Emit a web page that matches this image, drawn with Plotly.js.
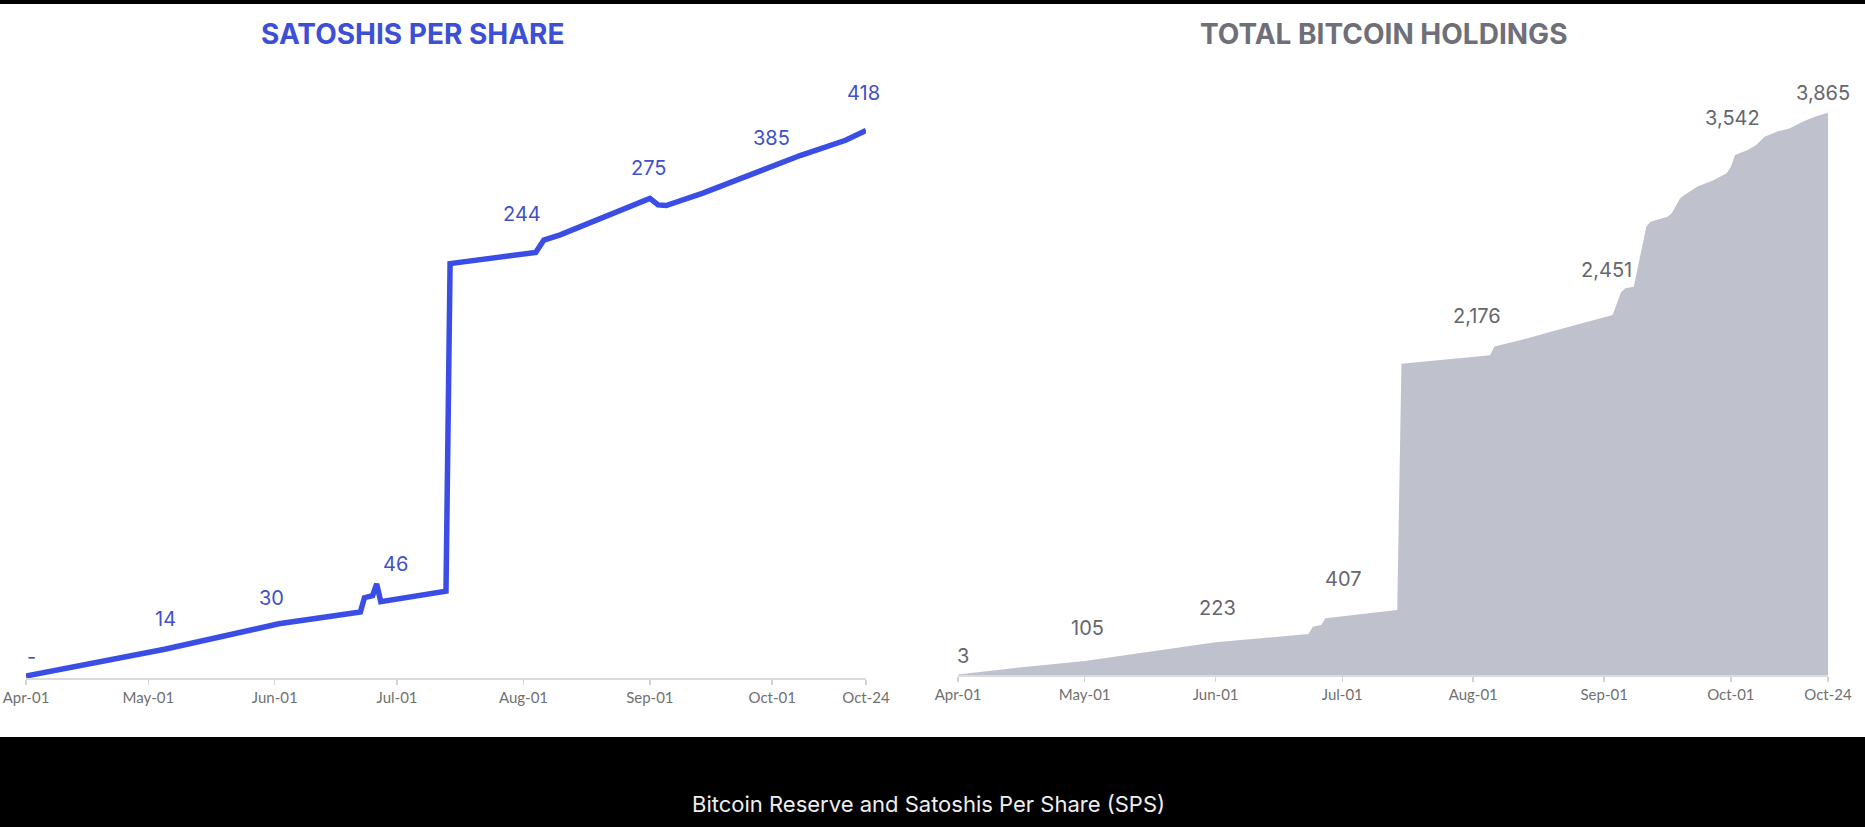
<!DOCTYPE html>
<html>
<head>
<meta charset="utf-8">
<script src="https://cdn.plot.ly/plotly-3.0.1.min.js"></script>
<style>
  html, body { margin: 0; padding: 0; background: #000; }
  #chart { width: 1865px; height: 827px; }
</style>
</head>
<body>
<div id="chart"></div>
<script>
// month ticks shared by both panels
const tickDates = ['2025-04-01', '2025-05-01', '2025-06-01', '2025-07-01', '2025-08-01', '2025-09-01', '2025-10-01', '2025-10-24'];
const tickLabels = ['Apr-01', 'May-01', 'Jun-01', 'Jul-01', 'Aug-01', 'Sep-01', 'Oct-01', 'Oct-24'];

// satoshis per share
const spsDates = ['2025-04-01', '2025-04-16', '2025-04-29', '2025-05-05', '2025-06-02', '2025-06-22', '2025-06-23',
                  '2025-06-25', '2025-06-26', '2025-06-27', '2025-07-13', '2025-07-14', '2025-08-04', '2025-08-06',
                  '2025-08-10', '2025-08-23', '2025-09-01', '2025-09-03', '2025-09-05', '2025-09-14', '2025-09-28',
                  '2025-10-08', '2025-10-19', '2025-10-24'];
const spsValues = [0, 9.5, 17, 20.5, 40, 49, 60, 61.5, 70.5, 57, 65, 316, 324.5, 334,
                   338, 354.5, 366, 361, 360.5, 370, 387.5, 399, 410.5, 418];
const spsLabels = ['-', '14', '30', '46', '244', '275', '385', '418'];

// total bitcoin holdings
const btcDates = ['2025-04-01', '2025-04-15', '2025-05-01', '2025-06-01', '2025-06-07', '2025-06-23', '2025-06-24',
                  '2025-06-26', '2025-06-27', '2025-07-14', '2025-07-15', '2025-08-05', '2025-08-06', '2025-08-13',
                  '2025-08-20', '2025-08-27', '2025-09-03', '2025-09-05', '2025-09-06', '2025-09-08', '2025-09-11',
                  '2025-09-12', '2025-09-16', '2025-09-17', '2025-09-19', '2025-09-20', '2025-09-22', '2025-09-23',
                  '2025-09-27', '2025-09-30', '2025-10-01', '2025-10-02', '2025-10-05', '2025-10-07', '2025-10-09',
                  '2025-10-12', '2025-10-15', '2025-10-18', '2025-10-21', '2025-10-24'];
const btcValues = [3, 50, 97, 225, 240, 282, 332, 344, 390, 447, 2139, 2197, 2257, 2307,
                   2365, 2422, 2475, 2630, 2658, 2669, 3082, 3116, 3150, 3174, 3277, 3299, 3334, 3356,
                   3402, 3449, 3494, 3574, 3609, 3643, 3700, 3735, 3758, 3803, 3838, 3865];
const btcLabels = ['3', '105', '223', '407', '2,176', '2,451', '3,542', '3,865'];

// label nudges in pixels [x, up]
const spsShift = [[5.5, 19], [17, 33], [-3, 27], [-2, 35.5], [-1.5, 40], [-1.5, 30], [-1, 28], [-3, 37.5]];
const btcShift = [[5, 18.5], [3, 33], [2, 34], [1, 37], [3.5, 41], [2, 47], [2, 49], [-5, 20]];

const W = 1865, H = 827;

function valueAt(dates, vals, d) {
    let t = Date.parse(d);
    for (let i = 1; i < dates.length; i++) {
        let t0 = Date.parse(dates[i - 1]), t1 = Date.parse(dates[i]);
        if (t <= t1) {
            return vals[i - 1] + (vals[i] - vals[i - 1]) * (t - t0) / (t1 - t0);
        }
    }
    return vals[vals.length - 1];
}

let xBase = {
    type: 'date',
    range: ['2025-04-01', '2025-10-24'],
    tickvals: tickDates,
    ticktext: tickLabels,
    ticks: 'outside',
    ticklen: 5,
    tickwidth: 1.5,
    tickcolor: '#d3d3d3',
    showline: true,
    linecolor: '#dadada',
    linewidth: 2,
    showgrid: false,
    zeroline: false,
    fixedrange: true,
    tickfont: {family: 'Lato', size: 15, color: '#707070'}
};

let sps = {
    x: spsDates,
    y: spsValues,
    xaxis: 'x',
    yaxis: 'y',
    mode: 'lines',
    line: {color: '#3a4de4', width: 5.5},
    hoverinfo: 'skip'
};

let btc = {
    x: btcDates,
    y: btcValues,
    xaxis: 'x2',
    yaxis: 'y2',
    mode: 'lines',
    fill: 'tozeroy',
    fillcolor: '#bfc1cd',
    line: {color: '#bfc1cd', width: 0},
    hoverinfo: 'skip'
};

let annotations = [
    {xref: 'paper', yref: 'paper', x: 413 / W, y: 1 - 34 / H, xanchor: 'center', yanchor: 'middle',
     text: 'SATOSHIS PER SHARE', showarrow: false,
     font: {family: 'Inter', size: 28, weight: 700, color: '#3d4fd6'}},
    {xref: 'paper', yref: 'paper', x: 1383 / W, y: 1 - 34 / H, xanchor: 'center', yanchor: 'middle',
     text: 'TOTAL BITCOIN HOLDINGS', showarrow: false,
     font: {family: 'Inter', size: 28, weight: 700, color: '#6e6f78'}},
    {xref: 'paper', yref: 'paper', x: 928 / W, y: 1 - 804 / H, xanchor: 'center', yanchor: 'middle',
     text: 'Bitcoin Reserve and Satoshis Per Share (SPS)',
     showarrow: false, font: {family: 'Inter', size: 22, color: '#eeeeee'}}
];

tickDates.forEach(function(d, i) {
    annotations.push({
        xref: 'x', yref: 'y', x: d, y: valueAt(spsDates, spsValues, d), text: spsLabels[i],
        xanchor: 'center', yanchor: 'middle',
        showarrow: false, xshift: spsShift[i][0], yshift: spsShift[i][1],
        font: {family: 'Inter', size: 20, color: '#4051c9'}
    });
    annotations.push({
        xref: 'x2', yref: 'y2', x: d, y: valueAt(btcDates, btcValues, d), text: btcLabels[i],
        xanchor: 'center', yanchor: 'middle',
        showarrow: false, xshift: btcShift[i][0], yshift: btcShift[i][1],
        font: {family: 'Inter', size: 20, color: '#66666e'}
    });
});

let layout = {
    width: W,
    height: H,
    margin: {l: 0, r: 0, t: 0, b: 0},
    paper_bgcolor: '#000',
    plot_bgcolor: 'rgba(0,0,0,0)',
    showlegend: false,
    xaxis: Object.assign({}, xBase, {domain: [26 / W, 866 / W], anchor: 'y'}),
    yaxis: {domain: [1 - 678 / H, 1 - 60 / H], range: [-1.53, 472], visible: false, fixedrange: true, anchor: 'x'},
    xaxis2: Object.assign({}, xBase, {domain: [958 / W, 1828 / W], anchor: 'y2'}),
    yaxis2: {domain: [1 - 675 / H, 1 - 60 / H], range: [0, 4227], visible: false, fixedrange: true, anchor: 'x2'},
    shapes: [
        {type: 'rect', xref: 'paper', yref: 'paper', x0: 0, x1: 1, y0: 1 - 737 / H, y1: 1 - 4 / H,
         fillcolor: '#ffffff', line: {width: 0}, layer: 'below'}
    ],
    annotations: annotations
};

Plotly.newPlot('chart', [sps, btc], layout, {displayModeBar: false, staticPlot: true});
</script>
</body>
</html>
